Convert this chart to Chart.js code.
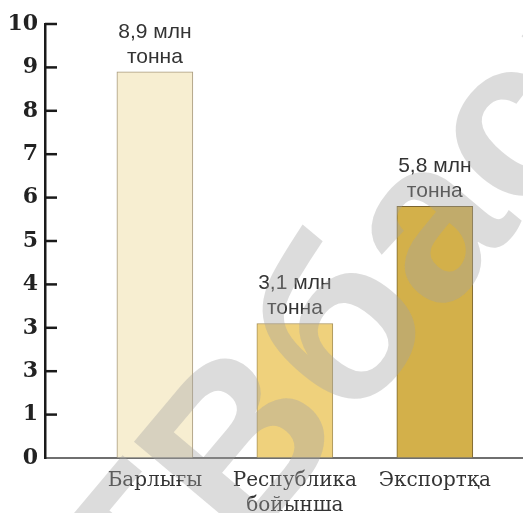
<!DOCTYPE html>
<html>
<head>
<meta charset="utf-8">
<script src="https://cdn.jsdelivr.net/npm/chart.js@4.4.1/dist/chart.umd.min.js"></script>
<style>
  html, body { margin: 0; padding: 0; background: #fff; }
  #wrap { width: 523px; height: 513px; }
</style>
</head>
<body>
<div id="wrap"><canvas id="grainChart"></canvas></div>
<script>
// data
var categories = [["Барлығы"], ["Республика", "бойынша"], ["Экспортқа"]];
var values = [8.9, 3.1, 5.8];
var valueLabels = [["8,9 млн", "тонна"], ["3,1 млн", "тонна"], ["5,8 млн", "тонна"]];
var yTickLabels = ["0", "1", "3", "3", "4", "5", "6", "7", "8", "9", "10"];
var barColors = ["#f7eed1", "#efd17c", "#d3b04a"];
var barBorders = ["#a89a7e", "#a8925a", "#7a6430"];

// inward ticks on the y axis, value labels, watermark
var decorations = {
  id: "decorations",
  afterDraw: function (chart) {
    var ctx = chart.ctx;
    var y = chart.scales.y;
    var area = chart.chartArea;
    ctx.save();
    ctx.strokeStyle = "#1a1a1a";
    ctx.lineWidth = 2.5;
    y.ticks.forEach(function (t) {
      if (t.value === 0) return;
      var py = y.getPixelForValue(t.value);
      ctx.beginPath();
      ctx.moveTo(area.left, py);
      ctx.lineTo(area.left + 12, py);
      ctx.stroke();
    });

    var meta = chart.getDatasetMeta(0);
    ctx.fillStyle = "#333";
    ctx.font = '21px "Liberation Sans", Arial, sans-serif';
    ctx.textAlign = "center";
    ctx.textBaseline = "middle";
    meta.data.forEach(function (bar, i) {
      ctx.fillText(valueLabels[i][0], bar.x, bar.y - 40);
      ctx.fillText(valueLabels[i][1], bar.x, bar.y - 15);
    });

    // watermark
    ctx.translate(350, 428);
    ctx.rotate(-50 * Math.PI / 180);
    ctx.font = 'bold 228px "Liberation Sans", Arial, sans-serif';
    ctx.textAlign = "left";
    ctx.textBaseline = "alphabetic";
    ctx.fillStyle = "rgba(163,163,163,0.38)";
    var pre = ctx.measureText("ТВ").width;
    ctx.fillText("ТВбаспа", -pre, 0);
    ctx.restore();
  }
};

var ctx = document.getElementById("grainChart").getContext("2d");
var grainChart = new Chart(ctx, {
  type: "bar",
  data: {
    datasets: [
      {
        data: values.map(function (v, i) { return { x: i + 1, y: v }; }),
        backgroundColor: barColors,
        borderColor: barBorders,
        borderWidth: 1,
        barThickness: 76,
      },
    ],
  },
  options: {
    responsive: true,
    maintainAspectRatio: false,
    animation: false,
    layout: { padding: { top: 24, left: 0, right: 0, bottom: 0 }, autoPadding: false },
    plugins: {
      legend: { display: false },
      tooltip: { enabled: false },
    },
    scales: {
      x: {
        type: "linear",
        offset: false,
        min: 0.215,
        max: 3.63,
        afterFit: function (scale) {
          scale.height = 55;
          scale.paddingLeft = 0;
          scale.paddingRight = 0;
        },
        grid: { drawOnChartArea: false, drawTicks: false },
        border: { color: "#6f6f6f", width: 2 },
        ticks: {
          stepSize: 1,
          autoSkip: false,
          maxRotation: 0,
          padding: 10,
          color: "#333",
          font: { family: '"DejaVu Serif", serif', size: 20, lineHeight: 1.25 },
          callback: function (v) {
            return Number.isInteger(v) && categories[v - 1] ? categories[v - 1] : "";
          },
        },
      },
      y: {
        min: 0,
        max: 10,
        afterFit: function (scale) { scale.width = 45; },
        grid: { drawOnChartArea: false, drawTicks: false },
        border: { color: "#1a1a1a", width: 2.5 },
        ticks: {
          stepSize: 1,
          padding: 7,
          color: "#222",
          font: { family: '"DejaVu Serif", serif', size: 22, weight: "bold" },
          callback: function (v) { return yTickLabels[v]; },
        },
      },
    },
  },
  plugins: [decorations],
});
</script>
</body>
</html>
